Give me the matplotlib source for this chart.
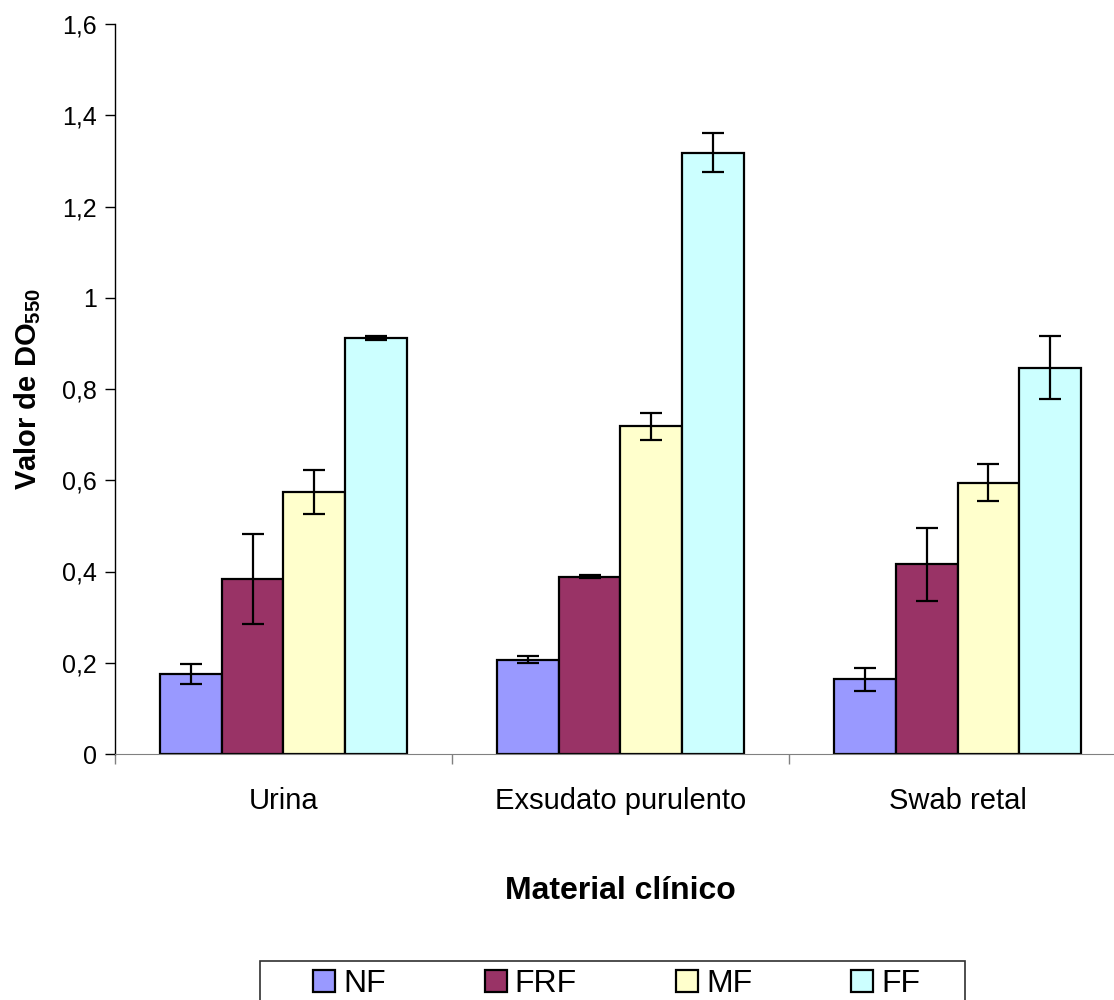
import matplotlib.pyplot as plt
from matplotlib.patches import Rectangle
import numpy as np

plt.rcParams['font.family'] = ['Liberation Sans', 'DejaVu Sans']
plt.rcParams['mathtext.fontset'] = 'custom'
plt.rcParams['mathtext.rm'] = 'Liberation Sans:weight=bold'
plt.rcParams['mathtext.bf'] = 'Liberation Sans:weight=bold'

# dados
materiais = ['Urina', 'Exsudato purulento', 'Swab retal']
series = ['NF', 'FRF', 'MF', 'FF']
nf = [0.175, 0.207, 0.164]
frf = [0.383, 0.389, 0.416]
mf = [0.574, 0.718, 0.595]
ff = [0.912, 1.318, 0.847]
nf_err = [0.022, 0.008, 0.025]
frf_err = [0.099, 0.004, 0.080]
mf_err = [0.048, 0.029, 0.041]
ff_err = [0.005, 0.043, 0.069]
cores = ['#9999FF', '#993366', '#FFFFCC', '#CCFFFF']
yticks = [0, 0.2, 0.4, 0.6, 0.8, 1.0, 1.2, 1.4, 1.6]
ytick_labels = ['0', '0,2', '0,4', '0,6', '0,8', '1', '1,2', '1,4', '1,6']

valores = [nf, frf, mf, ff]
erros = [nf_err, frf_err, mf_err, ff_err]

fig = plt.figure(figsize=(11.14, 10), dpi=100)
ax = fig.add_axes([0.1032, 0.246, 0.9076, 0.730])

x = np.arange(len(materiais))
largura = 0.183
for i, (nome, v, e, c) in enumerate(zip(series, valores, erros, cores)):
    pos = x + (i - 1.5) * largura
    ax.bar(pos, v, width=largura, color=c, edgecolor='black', linewidth=1.6,
           label=nome, zorder=2)
    ax.errorbar(pos, v, yerr=e, fmt='none', ecolor='black', elinewidth=1.6,
                capsize=8, capthick=1.6, zorder=3)

ax.set_xlim(-0.5, 2.5)
ax.set_ylim(0, 1.6)
ax.set_yticks(yticks)
ax.set_yticklabels(ytick_labels, fontsize=18)
ax.set_xticks(x)
ax.set_xticklabels(materiais, fontsize=21)
ax.set_xticks([-0.5, 0.5, 1.5, 2.5], minor=True)
ax.tick_params(axis='x', which='major', length=0, pad=24)
ax.tick_params(axis='x', which='minor', length=7, width=1, color='#808080')
ax.tick_params(axis='y', length=7, width=1, pad=6)

ax.spines['top'].set_visible(False)
ax.spines['right'].set_visible(False)
ax.spines['bottom'].set_color('#808080')
ax.spines['left'].set_linewidth(1)

ax.set_xlabel('Material clínico', fontsize=23, fontweight='bold', labelpad=44)
ax.set_ylabel('Valor de DO$_{\\mathbf{550}}$', fontsize=21, fontweight='bold', labelpad=14)

# legenda (sem moldura própria) + moldura retangular como no Excel
leg = fig.legend(loc='upper left', bbox_to_anchor=(0.281, 0.031), ncol=4,
                 fontsize=23, frameon=False, handlelength=0.69,
                 handleheight=0.69, handletextpad=0.25, columnspacing=3.1,
                 borderpad=0, borderaxespad=0)
for h in leg.legend_handles:
    h.set_linewidth(1.6)
fig.add_artist(Rectangle((0.2334, -0.01), 0.633, 0.049, transform=fig.transFigure,
                         fill=False, edgecolor='#303030', linewidth=1.2))

plt.savefig('out.png', dpi=100)
